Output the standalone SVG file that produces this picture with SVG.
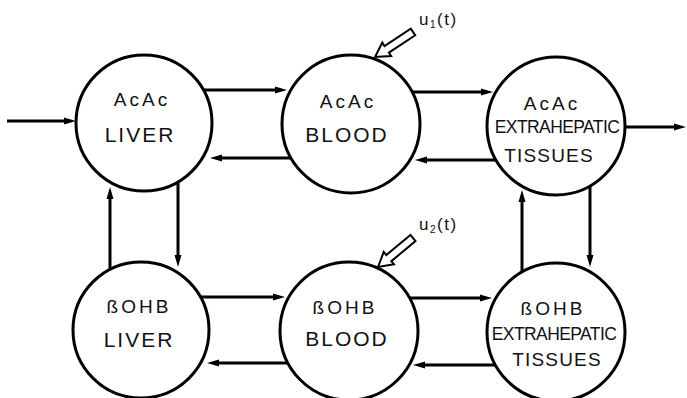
<svg xmlns="http://www.w3.org/2000/svg" width="687" height="398" viewBox="0 0 687 398">
  <style>
    .node circle { fill: #fff; stroke: #000; stroke-width: 3; }
    .node text { font-family: "Liberation Sans", Arial, sans-serif; fill: #111; text-anchor: middle; }
    .l1 { font-size: 19px; letter-spacing: 3px; }
    .l2 { font-size: 21px; letter-spacing: 2px; }
    .ext { font-size: 17.5px; letter-spacing: -0.6px; }
    .tis { font-size: 19px; letter-spacing: 1.2px; }
    .flow line { stroke: #000; stroke-width: 3; marker-end: url(#head); }
    .input polygon { fill: #fff; stroke: #000; stroke-width: 2; stroke-linejoin: miter; }
    .input text { font-family: "Liberation Sans", Arial, sans-serif; font-size: 17px; letter-spacing: 1.5px; fill: #111; }
  </style>
  <defs>
    <marker id="head" markerUnits="userSpaceOnUse" markerWidth="14" markerHeight="10" viewBox="0 -5 14 10" refX="1" refY="0" orient="auto">
      <path d="M0,-3.5 L12,0 L0,3.5 Z" fill="#000"/>
    </marker>
  </defs>
  <rect width="687" height="398" fill="#fff"/>

  <!-- transfer arrows between compartments -->
  <g id="connectors" class="flow">
    <line x1="7" y1="121" x2="65" y2="121"/>
    <line x1="204" y1="90" x2="276" y2="90"/>
    <line x1="291" y1="158" x2="221" y2="158"/>
    <line x1="412" y1="92" x2="482" y2="92"/>
    <line x1="496" y1="160" x2="426" y2="160"/>
    <line x1="625" y1="127" x2="675" y2="127"/>
    <line x1="110" y1="270" x2="110" y2="198"/>
    <line x1="178" y1="182" x2="178" y2="256"/>
    <line x1="522" y1="272" x2="522" y2="201"/>
    <line x1="590" y1="186" x2="590" y2="256"/>
    <line x1="201" y1="297" x2="274" y2="297"/>
    <line x1="288" y1="363" x2="218" y2="363"/>
    <line x1="410" y1="298" x2="481" y2="298"/>
    <line x1="496" y1="365" x2="424" y2="365"/>
  </g>

  <!-- acetoacetate compartments -->
  <g id="acac-liver" class="node">
    <circle cx="144" cy="123" r="68"/>
    <text class="l1" x="142" y="106">AcAc</text>
    <text class="l2" x="140" y="142">LIVER</text>
  </g>
  <g id="acac-blood" class="node">
    <circle cx="351" cy="124" r="69"/>
    <text class="l1" x="348" y="108">AcAc</text>
    <text class="l2" x="347" y="142">BLOOD</text>
  </g>
  <g id="acac-extrahepatic" class="node">
    <circle cx="556" cy="126" r="69"/>
    <text class="l1" x="552" y="110">AcAc</text>
    <text class="ext" x="557" y="133">EXTRAHEPATIC</text>
    <text class="tis" x="549" y="162">TISSUES</text>
  </g>

  <!-- beta-hydroxybutyrate compartments -->
  <g id="bohb-liver" class="node">
    <circle cx="141" cy="330" r="68"/>
    <text class="l1" x="139" y="313">ßOHB</text>
    <text class="l2" x="139" y="347">LIVER</text>
  </g>
  <g id="bohb-blood" class="node">
    <circle cx="349" cy="331" r="69"/>
    <text class="l1" x="345" y="314">ßOHB</text>
    <text class="l2" x="347" y="346">BLOOD</text>
  </g>
  <g id="bohb-extrahepatic" class="node">
    <circle cx="556" cy="332" r="69"/>
    <text class="l1" x="553" y="315">ßOHB</text>
    <text class="ext" x="554" y="340">EXTRAHEPATIC</text>
    <text class="tis" x="557" y="366">TISSUES</text>
  </g>

  <!-- exogenous infusions into blood -->
  <g id="input-u1" class="input">
    <polygon points="375,57 382.3,42.6 384.5,46 410.8,28.7 415.2,35.3 388.9,52.6 391.1,56"/>
    <text x="419" y="25">u<tspan font-size="10" dy="3">1</tspan><tspan dy="-3">(t)</tspan></text>
  </g>
  <g id="input-u2" class="input">
    <polygon points="378,267 383.7,252 386.3,255 410.5,234.9 415.5,241.1 391.3,261.2 393.9,264.3"/>
    <text x="419" y="230">u<tspan font-size="10" dy="3">2</tspan><tspan dy="-3">(t)</tspan></text>
  </g>
</svg>
